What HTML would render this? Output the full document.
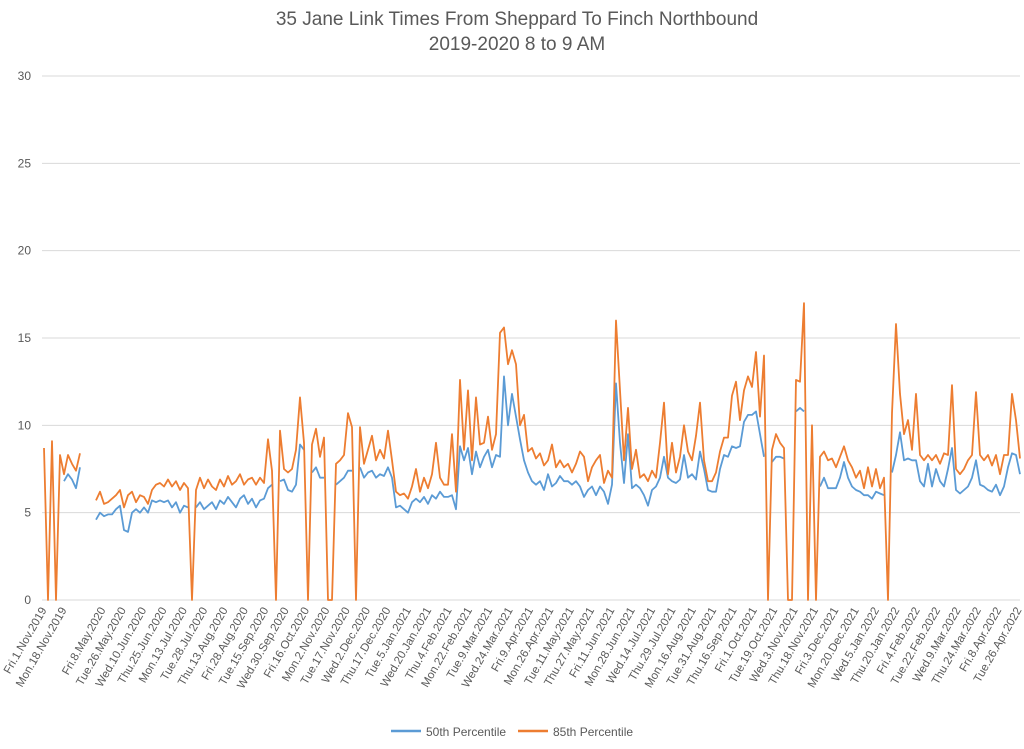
<!DOCTYPE html>
<html><head><meta charset="utf-8">
<style>
html,body{margin:0;padding:0;background:#fff;}
svg{display:block;font-family:"Liberation Sans",sans-serif;}
</style></head>
<body>
<svg id="chart" width="1024" height="749" viewBox="0 0 1024 749" xmlns="http://www.w3.org/2000/svg">
<text x="517" y="25" text-anchor="middle" font-size="19" fill="#595959">35 Jane Link Times From Sheppard To Finch Northbound</text>
<text x="517" y="50" text-anchor="middle" font-size="19" fill="#595959">2019-2020 8 to 9 AM</text>
<g id="grid"></g>
<g id="yticks"></g>
<g id="xticks"></g>
<g id="series"></g>
<g>
<line x1="391" y1="731" x2="421" y2="731" stroke="#5b9bd5" stroke-width="2.5"/>
<text x="426" y="736" font-size="12" fill="#595959">50th Percentile</text>
<line x1="518" y1="731" x2="548" y2="731" stroke="#ed7d31" stroke-width="2.5"/>
<text x="553" y="736" font-size="12" fill="#595959">85th Percentile</text>
</g>
</svg>
<script>
const yTicks = [0,5,10,15,20,25,30];
const xLabels = ["Fri.1.Nov.2019","Mon.18.Nov.2019","Fri.8.May.2020","Tue.26.May.2020","Wed.10.Jun.2020","Thu.25.Jun.2020","Mon.13.Jul.2020","Tue.28.Jul.2020","Thu.13.Aug.2020","Fri.28.Aug.2020","Tue.15.Sep.2020","Wed.30.Sep.2020","Fri.16.Oct.2020","Mon.2.Nov.2020","Tue.17.Nov.2020","Wed.2.Dec.2020","Thu.17.Dec.2020","Tue.5.Jan.2021","Wed.20.Jan.2021","Thu.4.Feb.2021","Mon.22.Feb.2021","Tue.9.Mar.2021","Wed.24.Mar.2021","Fri.9.Apr.2021","Mon.26.Apr.2021","Tue.11.May.2021","Thu.27.May.2021","Fri.11.Jun.2021","Mon.28.Jun.2021","Wed.14.Jul.2021","Thu.29.Jul.2021","Mon.16.Aug.2021","Tue.31.Aug.2021","Thu.16.Sep.2021","Fri.1.Oct.2021","Tue.19.Oct.2021","Wed.3.Nov.2021","Thu.18.Nov.2021","Fri.3.Dec.2021","Mon.20.Dec.2021","Wed.5.Jan.2022","Thu.20.Jan.2022","Fri.4.Feb.2022","Tue.22.Feb.2022","Wed.9.Mar.2022","Thu.24.Mar.2022","Fri.8.Apr.2022","Tue.26.Apr.2022"];
const p85 = [8.7,0,9.1,0,8.3,7.2,8.3,7.8,7.4,8.4,null,null,null,5.7,6.2,5.5,5.6,5.8,6.0,6.3,
5.3,6.0,6.2,5.6,6.0,5.9,5.5,6.3,6.6,6.7,6.5,6.9,6.5,6.8,6.3,6.7,6.4,0,6.3,7.0,
6.4,6.9,6.5,6.3,6.9,6.5,7.1,6.6,6.8,7.2,6.6,6.9,7.0,6.6,7.0,6.7,9.2,7.4,0,9.7,
7.5,7.3,7.5,8.6,11.6,9.0,0,8.9,9.8,8.2,9.3,0,0,7.8,8.0,8.3,10.7,9.9,0,9.9,
7.8,8.6,9.4,8.0,8.6,8.1,9.7,8.0,6.2,6.0,6.1,5.8,6.5,7.5,6.2,7.0,6.4,7.2,9.0,7.0,
6.6,6.6,9.5,6.2,12.6,8.6,12.0,8.0,11.6,8.9,9.0,10.5,8.6,9.5,15.3,15.6,13.5,14.3,13.5,10.0,
10.6,8.5,8.7,8.1,8.4,7.7,8.0,8.9,7.6,8.0,7.6,7.8,7.3,7.8,8.5,8.2,6.8,7.6,8.0,8.3,
6.7,7.4,7.0,16.0,12.0,8.0,11.0,7.5,8.6,7.0,7.2,6.8,7.4,7.0,9.0,11.3,7.2,9.0,7.3,8.2,
10.0,8.5,8.0,9.4,11.3,8.0,6.8,6.8,7.3,8.5,9.3,9.3,11.7,12.5,10.3,12.0,12.8,12.2,14.2,10.5,
14.0,0,8.6,9.5,9.0,8.7,0,0,12.6,12.5,17.0,0,10.0,0,8.2,8.5,8.0,8.1,7.6,8.2,
8.8,8.0,7.6,7.0,7.4,6.4,7.6,6.5,7.5,6.4,7.0,0,10.7,15.8,11.8,9.5,10.3,8.6,11.8,8.3,
8.0,8.3,8.0,8.3,7.8,8.4,8.3,12.3,7.5,7.2,7.5,8.0,8.3,11.9,8.3,8.0,8.3,7.7,8.3,7.2,
8.3,8.3,11.8,10.3,8.1];
const p50 = [null,null,null,null,null,6.8,7.2,6.9,6.4,7.6,null,null,null,4.6,5.0,4.8,4.9,4.9,5.2,5.4,
4.0,3.9,5.0,5.2,5.0,5.3,5.0,5.7,5.6,5.7,5.6,5.7,5.3,5.6,5.0,5.4,5.3,null,5.3,5.6,
5.2,5.4,5.6,5.2,5.7,5.5,5.9,5.6,5.3,5.8,6.0,5.5,5.8,5.3,5.7,5.8,6.4,6.6,null,6.8,
6.9,6.3,6.2,6.6,8.9,8.6,null,7.3,7.6,7.0,7.0,null,null,6.6,6.8,7.0,7.4,7.4,null,7.6,
7.0,7.3,7.4,7.0,7.2,7.1,7.6,7.0,5.3,5.4,5.2,5.0,5.6,5.8,5.6,5.9,5.5,6.0,5.8,6.2,
5.9,5.9,6.0,5.2,8.8,8.0,8.7,7.2,8.5,7.6,8.2,8.6,7.6,8.3,8.2,12.8,10.0,11.8,10.5,9.2,
8.0,7.3,6.8,6.6,6.8,6.3,7.2,6.5,6.7,7.1,6.8,6.8,6.6,6.8,6.5,5.9,6.3,6.5,6.0,6.5,
6.2,5.5,6.6,12.4,9.0,6.7,9.5,6.4,6.6,6.4,6.0,5.4,6.3,6.5,7.0,8.2,7.0,6.8,6.7,6.9,
8.3,7.0,7.2,6.9,8.5,7.5,6.3,6.2,6.2,7.5,8.3,8.2,8.8,8.7,8.8,10.2,10.6,10.6,10.8,9.5,
8.2,null,7.9,8.2,8.2,8.1,null,null,10.8,11.0,10.8,null,null,null,6.5,7.0,6.4,6.4,6.4,7.0,
7.9,7.0,6.5,6.3,6.2,6.0,6.0,5.8,6.2,6.1,6.0,null,7.3,8.3,9.6,8.0,8.1,8.0,8.0,6.8,
6.5,7.8,6.5,7.5,6.8,6.5,7.5,8.7,6.3,6.1,6.3,6.5,7.0,8.0,6.6,6.5,6.3,6.2,6.6,6.0,
6.5,7.6,8.4,8.3,7.2];

const NS='http://www.w3.org/2000/svg';
const plotL=42, plotR=1020, y0=600, yTop=76, yMax=30;
function yScale(v){return y0-(v/yMax)*(y0-yTop);}
function xScale(i){return 44+i*(1020-44)/(p85.length-1);}
function labelX(k){ if(k===0) return 47; if(k===1) return 67; return 106+(k-2)*(1022-106)/(xLabels.length-3); }
function mk(tag,attrs){const e=document.createElementNS(NS,tag);for(const a in attrs)e.setAttribute(a,attrs[a]);return e;}

const grid=document.getElementById('grid'), yt=document.getElementById('yticks'), xt=document.getElementById('xticks'), ser=document.getElementById('series');
yTicks.forEach(v=>{
  const l=mk('line',{x1:plotL,x2:plotR,y1:yScale(v),y2:yScale(v),stroke:'#d9d9d9','stroke-width':1});
  
  
  grid.appendChild(l);
  const t=mk('text',{x:31,y:yScale(v)+4,'text-anchor':'end','font-size':12,fill:'#595959'});
  t.textContent=v;
  
  
  yt.appendChild(t);
});
xLabels.forEach((s,k)=>{
  const x=labelX(k), y=610;
  const t=mk('text',{x:x,y:y,'text-anchor':'end','font-size':11.5,fill:'#595959',transform:'rotate(-60 '+x+' '+y+')'});
  t.textContent=s;
  
  
  xt.appendChild(t);
});
function buildPath(arr){
  let d='',pen=false;
  arr.forEach((v,i)=>{
    if(v===null){pen=false;return;}
    d+=(pen?'L':'M')+xScale(i).toFixed(1)+' '+yScale(v).toFixed(1)+' ';
    pen=true;
  });
  return d;
}
const pb=mk('path',{d:buildPath(p50),fill:'none',stroke:'#5b9bd5','stroke-width':1.8,'stroke-linejoin':'round'});


ser.appendChild(pb);
const po=mk('path',{d:buildPath(p85),fill:'none',stroke:'#ed7d31','stroke-width':1.8,'stroke-linejoin':'round'});


ser.appendChild(po);
</script>
</body></html>
